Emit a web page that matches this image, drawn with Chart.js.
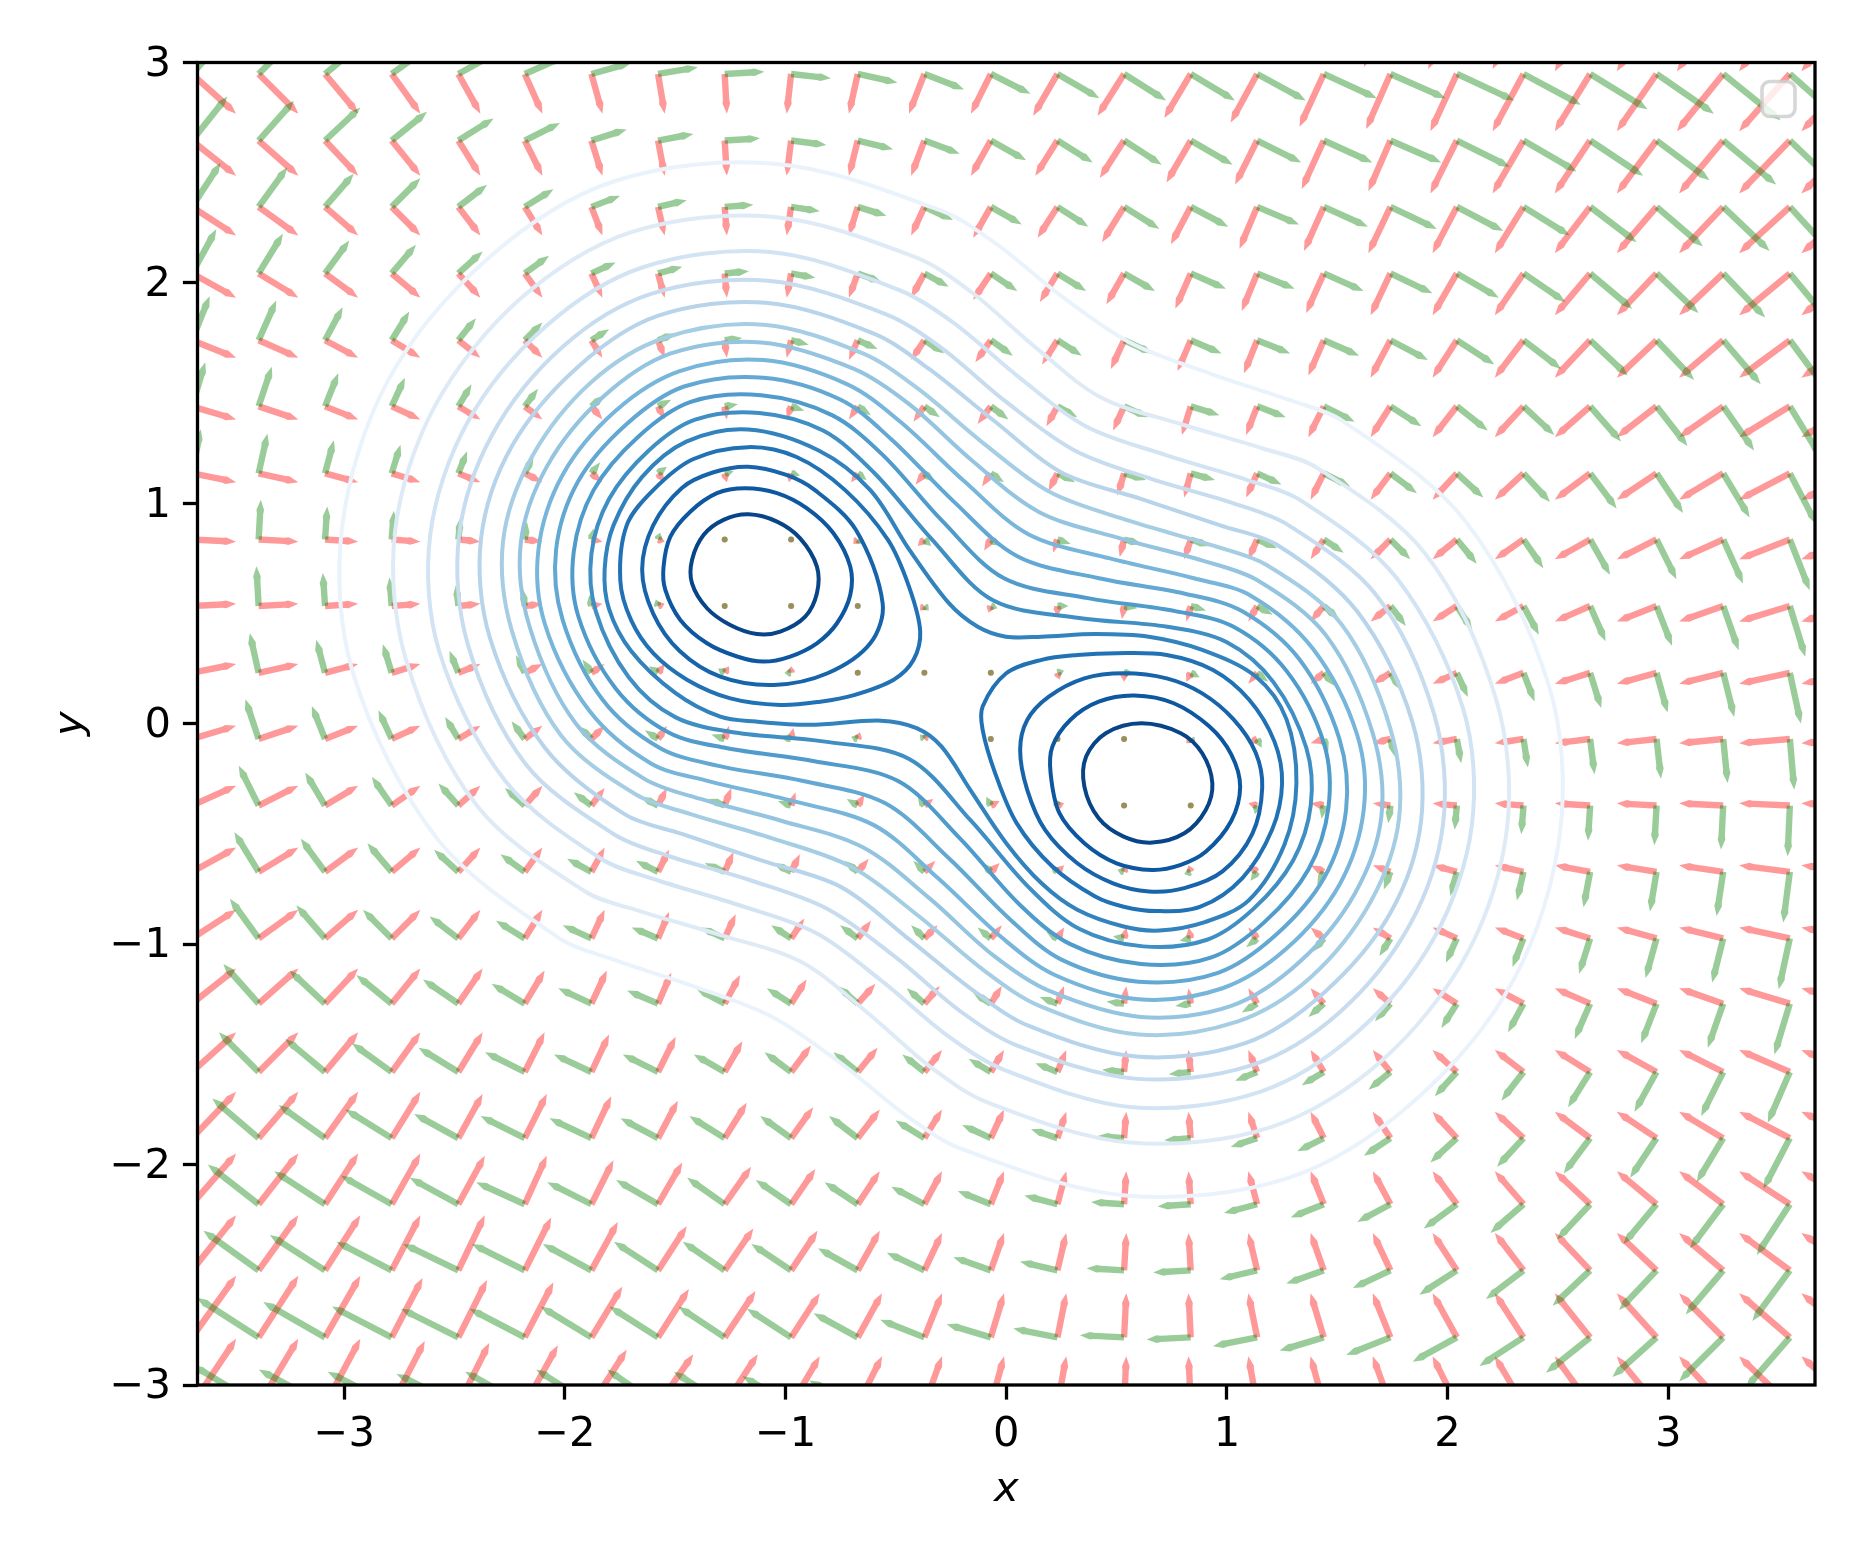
<!DOCTYPE html>
<html>
<head>
<meta charset="utf-8">
<title>Contours with gradient and rotated field</title>
<style>html,body{margin:0;background:#fff}canvas{display:block}</style>
<script src="https://cdn.jsdelivr.net/npm/chart.js@4/dist/chart.umd.min.js"></script>
</head>
<body>
<canvas id="fieldChart" width="1860" height="1560"></canvas>
<script>
const xTicks = [-3, -2, -1, 0, 1, 2, 3];
const yTicks = [-3, -2, -1, 0, 1, 2, 3];
const tickLabels = ["\u22123", "\u22122", "\u22121", "0", "1", "2", "3"];

// arrow tails
const gridX = [-3.69,-3.388,-3.087,-2.785,-2.483,-2.182,-1.88,-1.578,-1.276,-.975,-.673,-.371,-.07,.232,.534,.836,1.137,1.439,1.741,2.042,2.344,2.646,2.947,3.249,3.551,3.853];
const gridY = [3.25,2.948,2.646,2.345,2.043,1.74,1.44,1.136,.836,.534,.231,-.069,-.371,-.672,-.974,-1.27,-1.58,-1.88,-2.18,-2.48,-2.784,-3.09];

// red arrows, one row per gridY
const redU = [
[.20,.18,.15,.13,.10,.08,.05,.03,.01,-.02,-.04,-.07,-.09,-.11,-.13,-.14,-.13,-.13,-.12,-.13,-.14,-.16,-.18,-.21,-.23,-.25],
[.20,.18,.15,.13,.10,.08,.05,.03,.01,-.02,-.04,-.07,-.09,-.11,-.12,-.12,-.12,-.11,-.11,-.12,-.14,-.16,-.18,-.21,-.23,-.25],
[.20,.18,.15,.13,.10,.08,.05,.03,.01,-.02,-.04,-.06,-.09,-.10,-.11,-.11,-.10,-.10,-.10,-.12,-.14,-.16,-.18,-.20,-.23,-.25],
[.20,.18,.15,.13,.10,.08,.05,.03,.01,-.02,-.04,-.06,-.08,-.09,-.10,-.09,-.08,-.09,-.10,-.11,-.13,-.16,-.18,-.20,-.23,-.25],
[.20,.18,.15,.13,.10,.08,.05,.03,.01,-.02,-.04,-.06,-.08,-.08,-.08,-.07,-.07,-.08,-.09,-.11,-.13,-.16,-.18,-.20,-.23,-.25],
[.20,.18,.15,.13,.10,.08,.05,.03,.01,-.02,-.04,-.06,-.07,-.07,-.06,-.06,-.06,-.07,-.09,-.11,-.13,-.16,-.18,-.20,-.23,-.25],
[.20,.18,.15,.13,.10,.08,.05,.03,.01,-.02,-.04,-.05,-.06,-.05,-.05,-.04,-.05,-.07,-.09,-.11,-.13,-.16,-.18,-.20,-.23,-.25],
[.20,.18,.15,.13,.10,.08,.05,.03,.01,-.01,-.03,-.04,-.04,-.04,-.03,-.03,-.05,-.06,-.09,-.11,-.13,-.16,-.18,-.20,-.23,-.25],
[.20,.18,.15,.13,.10,.08,.05,.03,.01,-.01,-.02,-.03,-.03,-.02,-.02,-.03,-.04,-.06,-.09,-.11,-.13,-.16,-.18,-.20,-.23,-.25],
[.20,.18,.15,.13,.10,.08,.05,.03,.01,-.01,-.02,-.02,-.01,0,-.01,-.02,-.04,-.06,-.09,-.11,-.13,-.16,-.18,-.20,-.23,-.25],
[.20,.18,.15,.13,.10,.08,.06,.03,.02,0,0,0,.01,.01,0,-.02,-.04,-.06,-.08,-.11,-.13,-.16,-.18,-.20,-.23,-.25],
[.20,.18,.15,.13,.10,.08,.06,.04,.02,.01,.01,.02,.02,.02,0,-.02,-.04,-.06,-.08,-.11,-.13,-.16,-.18,-.20,-.23,-.25],
[.20,.18,.15,.13,.10,.08,.06,.04,.03,.02,.03,.04,.04,.03,.01,-.01,-.04,-.06,-.08,-.11,-.13,-.16,-.18,-.20,-.23,-.25],
[.20,.18,.15,.13,.10,.08,.06,.05,.04,.04,.05,.05,.04,.03,.01,-.01,-.04,-.06,-.08,-.11,-.13,-.16,-.18,-.20,-.23,-.25],
[.20,.18,.15,.13,.10,.08,.06,.05,.05,.06,.06,.06,.05,.03,.01,-.01,-.04,-.06,-.08,-.11,-.13,-.16,-.18,-.20,-.23,-.25],
[.20,.18,.15,.13,.11,.09,.07,.06,.07,.07,.08,.07,.05,.03,.01,-.01,-.04,-.06,-.08,-.11,-.13,-.16,-.18,-.20,-.23,-.25],
[.20,.18,.15,.13,.11,.09,.08,.08,.08,.09,.09,.08,.06,.04,.01,-.01,-.04,-.06,-.08,-.11,-.13,-.16,-.18,-.20,-.23,-.25],
[.20,.18,.15,.13,.11,.10,.09,.09,.10,.10,.10,.08,.06,.04,.01,-.01,-.04,-.06,-.08,-.11,-.13,-.16,-.18,-.20,-.23,-.25],
[.20,.18,.15,.13,.12,.10,.10,.11,.12,.11,.10,.08,.06,.04,.01,-.01,-.04,-.06,-.08,-.11,-.13,-.16,-.18,-.20,-.23,-.25],
[.20,.18,.16,.13,.12,.12,.12,.13,.13,.12,.10,.08,.06,.04,.01,-.01,-.04,-.06,-.08,-.11,-.13,-.16,-.18,-.20,-.23,-.25],
[.20,.18,.16,.14,.13,.13,.14,.14,.14,.13,.11,.08,.06,.04,.01,-.01,-.04,-.06,-.08,-.11,-.13,-.16,-.18,-.20,-.23,-.25],
[.20,.18,.16,.15,.14,.15,.16,.16,.15,.13,.11,.08,.06,.04,.01,-.01,-.04,-.06,-.08,-.11,-.13,-.16,-.18,-.20,-.23,-.25]
];
const redV = [
[-.20,-.20,-.20,-.20,-.20,-.20,-.20,-.20,-.20,-.20,-.20,-.20,-.21,-.21,-.21,-.22,-.23,-.25,-.27,-.28,-.28,-.29,-.29,-.29,-.29,-.29],
[-.18,-.18,-.18,-.18,-.18,-.18,-.18,-.18,-.18,-.18,-.18,-.18,-.18,-.19,-.19,-.20,-.22,-.24,-.25,-.26,-.26,-.26,-.26,-.26,-.26,-.26],
[-.16,-.16,-.16,-.16,-.16,-.16,-.16,-.16,-.16,-.16,-.16,-.16,-.16,-.16,-.17,-.19,-.20,-.22,-.23,-.24,-.24,-.24,-.24,-.24,-.24,-.24],
[-.13,-.13,-.13,-.13,-.13,-.13,-.13,-.13,-.13,-.13,-.13,-.13,-.14,-.14,-.16,-.17,-.19,-.20,-.21,-.21,-.21,-.21,-.21,-.21,-.21,-.21],
[-.11,-.11,-.11,-.11,-.11,-.11,-.11,-.11,-.11,-.11,-.11,-.11,-.12,-.13,-.14,-.16,-.17,-.18,-.19,-.19,-.19,-.19,-.19,-.19,-.19,-.19],
[-.08,-.08,-.08,-.08,-.08,-.08,-.08,-.08,-.08,-.08,-.09,-.09,-.10,-.11,-.13,-.14,-.15,-.16,-.17,-.17,-.17,-.17,-.17,-.17,-.17,-.17],
[-.06,-.06,-.06,-.06,-.06,-.06,-.06,-.06,-.06,-.06,-.06,-.07,-.08,-.09,-.11,-.13,-.13,-.14,-.14,-.14,-.14,-.14,-.14,-.14,-.14,-.14],
[-.04,-.04,-.04,-.04,-.04,-.04,-.04,-.04,-.04,-.04,-.04,-.05,-.06,-.08,-.10,-.11,-.11,-.12,-.12,-.12,-.12,-.12,-.12,-.12,-.12,-.12],
[-.01,-.01,-.01,-.01,-.01,-.01,-.01,-.01,-.01,-.02,-.02,-.03,-.05,-.06,-.08,-.09,-.09,-.09,-.09,-.09,-.09,-.09,-.09,-.09,-.09,-.09],
[.01,.01,.01,.01,.01,.01,.01,.01,.01,.01,0,-.02,-.03,-.05,-.06,-.07,-.07,-.07,-.07,-.07,-.07,-.07,-.07,-.07,-.07,-.07],
[.04,.04,.04,.04,.04,.04,.04,.04,.03,.03,.02,0,-.02,-.03,-.04,-.04,-.05,-.05,-.05,-.05,-.05,-.05,-.05,-.05,-.05,-.05],
[.06,.06,.06,.06,.06,.06,.06,.06,.06,.05,.03,.02,0,-.01,-.02,-.02,-.02,-.02,-.02,-.02,-.02,-.02,-.02,-.02,-.02,-.02],
[.09,.09,.09,.09,.09,.09,.08,.08,.08,.06,.05,.03,.02,.01,.01,0,.01,.01,.01,.01,.01,.01,.01,.01,.01,.01],
[.11,.11,.11,.11,.11,.11,.11,.10,.09,.08,.06,.05,.04,.03,.03,.03,.03,.03,.03,.03,.03,.03,.03,.03,.03,.03],
[.13,.13,.13,.13,.13,.13,.13,.12,.11,.09,.08,.06,.06,.05,.05,.05,.05,.05,.05,.05,.05,.05,.05,.05,.05,.05],
[.16,.16,.16,.16,.16,.15,.15,.14,.13,.11,.09,.08,.08,.08,.08,.07,.07,.07,.07,.07,.07,.07,.07,.07,.07,.07],
[.18,.18,.18,.18,.18,.18,.17,.16,.14,.12,.11,.10,.10,.10,.10,.10,.10,.10,.10,.10,.10,.10,.10,.10,.10,.10],
[.21,.21,.21,.21,.20,.20,.19,.17,.16,.14,.13,.13,.13,.12,.12,.12,.12,.12,.12,.12,.12,.12,.12,.12,.12,.12],
[.23,.23,.23,.23,.22,.22,.20,.19,.17,.16,.15,.15,.15,.15,.15,.15,.15,.15,.15,.15,.15,.15,.15,.15,.15,.15],
[.25,.25,.25,.25,.25,.24,.22,.20,.19,.18,.18,.17,.17,.17,.17,.17,.17,.17,.17,.17,.17,.17,.17,.17,.17,.17],
[.28,.28,.28,.27,.26,.25,.23,.22,.21,.20,.20,.20,.20,.20,.20,.20,.20,.20,.20,.20,.20,.20,.20,.20,.20,.20],
[.30,.30,.30,.29,.28,.27,.25,.23,.23,.22,.22,.22,.22,.22,.22,.22,.22,.22,.22,.22,.22,.22,.22,.22,.22,.22]
];

// green arrows, one row per gridY
const greenU = [
[.20,.20,.20,.20,.20,.20,.20,.20,.20,.20,.20,.20,.21,.21,.21,.22,.23,.25,.27,.28,.28,.29,.29,.29,.29,.29],
[.18,.18,.18,.18,.18,.18,.18,.18,.18,.18,.18,.18,.18,.19,.19,.20,.22,.24,.25,.26,.26,.26,.26,.26,.26,.26],
[.16,.16,.16,.16,.16,.16,.16,.16,.16,.16,.16,.16,.16,.16,.17,.19,.20,.22,.23,.24,.24,.24,.24,.24,.24,.24],
[.13,.13,.13,.13,.13,.13,.13,.13,.13,.13,.13,.13,.14,.14,.16,.17,.19,.20,.21,.21,.21,.21,.21,.21,.21,.21],
[.11,.11,.11,.11,.11,.11,.11,.11,.11,.11,.11,.11,.12,.13,.14,.16,.17,.18,.19,.19,.19,.19,.19,.19,.19,.19],
[.08,.08,.08,.08,.08,.08,.08,.08,.08,.08,.09,.09,.10,.11,.13,.14,.15,.16,.17,.17,.17,.17,.17,.17,.17,.17],
[.06,.06,.06,.06,.06,.06,.06,.06,.06,.06,.06,.07,.08,.09,.11,.13,.13,.14,.14,.14,.14,.14,.14,.14,.14,.14],
[.04,.04,.04,.04,.04,.04,.04,.04,.04,.04,.04,.05,.06,.08,.10,.11,.11,.12,.12,.12,.12,.12,.12,.12,.12,.12],
[.01,.01,.01,.01,.01,.01,.01,.01,.01,.02,.02,.03,.05,.06,.08,.09,.09,.09,.09,.09,.09,.09,.09,.09,.09,.09],
[-.01,-.01,-.01,-.01,-.01,-.01,-.01,-.01,-.01,-.01,0,.02,.03,.05,.06,.07,.07,.07,.07,.07,.07,.07,.07,.07,.07,.07],
[-.04,-.04,-.04,-.04,-.04,-.04,-.04,-.04,-.03,-.03,-.02,0,.02,.03,.04,.04,.05,.05,.05,.05,.05,.05,.05,.05,.05,.05],
[-.06,-.06,-.06,-.06,-.06,-.06,-.06,-.06,-.06,-.05,-.03,-.02,0,.01,.02,.02,.02,.02,.02,.02,.02,.02,.02,.02,.02,.02],
[-.09,-.09,-.09,-.09,-.09,-.09,-.08,-.08,-.08,-.06,-.05,-.03,-.02,-.01,-.01,0,-.01,-.01,-.01,-.01,-.01,-.01,-.01,-.01,-.01,-.01],
[-.11,-.11,-.11,-.11,-.11,-.11,-.11,-.10,-.09,-.08,-.06,-.05,-.04,-.03,-.03,-.03,-.03,-.03,-.03,-.03,-.03,-.03,-.03,-.03,-.03,-.03],
[-.13,-.13,-.13,-.13,-.13,-.13,-.13,-.12,-.11,-.09,-.08,-.06,-.06,-.05,-.05,-.05,-.05,-.05,-.05,-.05,-.05,-.05,-.05,-.05,-.05,-.05],
[-.16,-.16,-.16,-.16,-.16,-.15,-.15,-.14,-.13,-.11,-.09,-.08,-.08,-.08,-.08,-.07,-.07,-.07,-.07,-.07,-.07,-.07,-.07,-.07,-.07,-.07],
[-.18,-.18,-.18,-.18,-.18,-.18,-.17,-.16,-.14,-.12,-.11,-.10,-.10,-.10,-.10,-.10,-.10,-.10,-.10,-.10,-.10,-.10,-.10,-.10,-.10,-.10],
[-.21,-.21,-.21,-.21,-.20,-.20,-.19,-.17,-.16,-.14,-.13,-.13,-.13,-.12,-.12,-.12,-.12,-.12,-.12,-.12,-.12,-.12,-.12,-.12,-.12,-.12],
[-.23,-.23,-.23,-.23,-.22,-.22,-.20,-.19,-.17,-.16,-.15,-.15,-.15,-.15,-.15,-.15,-.15,-.15,-.15,-.15,-.15,-.15,-.15,-.15,-.15,-.15],
[-.25,-.25,-.25,-.25,-.25,-.24,-.22,-.20,-.19,-.18,-.18,-.17,-.17,-.17,-.17,-.17,-.17,-.17,-.17,-.17,-.17,-.17,-.17,-.17,-.17,-.17],
[-.28,-.28,-.28,-.27,-.26,-.25,-.23,-.22,-.21,-.20,-.20,-.20,-.20,-.20,-.20,-.20,-.20,-.20,-.20,-.20,-.20,-.20,-.20,-.20,-.20,-.20],
[-.30,-.30,-.30,-.29,-.28,-.27,-.25,-.23,-.23,-.22,-.22,-.22,-.22,-.22,-.22,-.22,-.22,-.22,-.22,-.22,-.22,-.22,-.22,-.22,-.22,-.22]
];
const greenV = [
[.20,.18,.15,.13,.10,.08,.05,.03,.01,-.02,-.04,-.07,-.09,-.11,-.13,-.14,-.13,-.13,-.12,-.13,-.14,-.16,-.18,-.21,-.23,-.25],
[.20,.18,.15,.13,.10,.08,.05,.03,.01,-.02,-.04,-.07,-.09,-.11,-.12,-.12,-.12,-.11,-.11,-.12,-.14,-.16,-.18,-.21,-.23,-.25],
[.20,.18,.15,.13,.10,.08,.05,.03,.01,-.02,-.04,-.06,-.09,-.10,-.11,-.11,-.10,-.10,-.10,-.12,-.14,-.16,-.18,-.20,-.23,-.25],
[.20,.18,.15,.13,.10,.08,.05,.03,.01,-.02,-.04,-.06,-.08,-.09,-.10,-.09,-.08,-.09,-.10,-.11,-.13,-.16,-.18,-.20,-.23,-.25],
[.20,.18,.15,.13,.10,.08,.05,.03,.01,-.02,-.04,-.06,-.08,-.08,-.08,-.07,-.07,-.08,-.09,-.11,-.13,-.16,-.18,-.20,-.23,-.25],
[.20,.18,.15,.13,.10,.08,.05,.03,.01,-.02,-.04,-.06,-.07,-.07,-.06,-.06,-.06,-.07,-.09,-.11,-.13,-.16,-.18,-.20,-.23,-.25],
[.20,.18,.15,.13,.10,.08,.05,.03,.01,-.02,-.04,-.05,-.06,-.05,-.05,-.04,-.05,-.07,-.09,-.11,-.13,-.16,-.18,-.20,-.23,-.25],
[.20,.18,.15,.13,.10,.08,.05,.03,.01,-.01,-.03,-.04,-.04,-.04,-.03,-.03,-.05,-.06,-.09,-.11,-.13,-.16,-.18,-.20,-.23,-.25],
[.20,.18,.15,.13,.10,.08,.05,.03,.01,-.01,-.02,-.03,-.03,-.02,-.02,-.03,-.04,-.06,-.09,-.11,-.13,-.16,-.18,-.20,-.23,-.25],
[.20,.18,.15,.13,.10,.08,.05,.03,.01,-.01,-.02,-.02,-.01,0,-.01,-.02,-.04,-.06,-.09,-.11,-.13,-.16,-.18,-.20,-.23,-.25],
[.20,.18,.15,.13,.10,.08,.06,.03,.02,0,0,0,.01,.01,0,-.02,-.04,-.06,-.08,-.11,-.13,-.16,-.18,-.20,-.23,-.25],
[.20,.18,.15,.13,.10,.08,.06,.04,.02,.01,.01,.02,.02,.02,0,-.02,-.04,-.06,-.08,-.11,-.13,-.16,-.18,-.20,-.23,-.25],
[.20,.18,.15,.13,.10,.08,.06,.04,.03,.02,.03,.04,.04,.03,.01,-.01,-.04,-.06,-.08,-.11,-.13,-.16,-.18,-.20,-.23,-.25],
[.20,.18,.15,.13,.10,.08,.06,.05,.04,.04,.05,.05,.04,.03,.01,-.01,-.04,-.06,-.08,-.11,-.13,-.16,-.18,-.20,-.23,-.25],
[.20,.18,.15,.13,.10,.08,.06,.05,.05,.06,.06,.06,.05,.03,.01,-.01,-.04,-.06,-.08,-.11,-.13,-.16,-.18,-.20,-.23,-.25],
[.20,.18,.15,.13,.11,.09,.07,.06,.07,.07,.08,.07,.05,.03,.01,-.01,-.04,-.06,-.08,-.11,-.13,-.16,-.18,-.20,-.23,-.25],
[.20,.18,.15,.13,.11,.09,.08,.08,.08,.09,.09,.08,.06,.04,.01,-.01,-.04,-.06,-.08,-.11,-.13,-.16,-.18,-.20,-.23,-.25],
[.20,.18,.15,.13,.11,.10,.09,.09,.10,.10,.10,.08,.06,.04,.01,-.01,-.04,-.06,-.08,-.11,-.13,-.16,-.18,-.20,-.23,-.25],
[.20,.18,.15,.13,.12,.10,.10,.11,.12,.11,.10,.08,.06,.04,.01,-.01,-.04,-.06,-.08,-.11,-.13,-.16,-.18,-.20,-.23,-.25],
[.20,.18,.16,.13,.12,.12,.12,.13,.13,.12,.10,.08,.06,.04,.01,-.01,-.04,-.06,-.08,-.11,-.13,-.16,-.18,-.20,-.23,-.25],
[.20,.18,.16,.14,.13,.13,.14,.14,.14,.13,.11,.08,.06,.04,.01,-.01,-.04,-.06,-.08,-.11,-.13,-.16,-.18,-.20,-.23,-.25],
[.20,.18,.16,.15,.14,.15,.16,.16,.15,.13,.11,.08,.06,.04,.01,-.01,-.04,-.06,-.08,-.11,-.13,-.16,-.18,-.20,-.23,-.25]
];

// contour lines, outermost first
const outer01 = [[-2.80,1.56],[-2.35,2.11],[-1.78,2.46],[-1.04,2.54],[-.30,2.33],[-.05,2.18],[.25,1.94],[.56,1.73],[.92,1.59],[1.28,1.47],[1.53,1.37],[2.08,.92],[2.46,.17],[2.51,-.49],[2.30,-1.16],[1.85,-1.71],[1.28,-2.06],[.54,-2.14],[-.20,-1.93],[-.45,-1.78],[-.75,-1.54],[-1.06,-1.33],[-1.42,-1.19],[-1.78,-1.07],[-2.03,-.97],[-2.58,-.52],[-2.96,.23],[-3.01,.89]];
const outer02 = [[-2.59,1.44],[-2.20,1.93],[-1.70,2.23],[-1.06,2.30],[-.42,2.12],[-.16,1.96],[.13,1.71],[.43,1.48],[.79,1.36],[1.16,1.25],[1.41,1.16],[1.90,.77],[2.22,.11],[2.27,-.47],[2.09,-1.04],[1.70,-1.53],[1.20,-1.83],[.56,-1.90],[-.08,-1.72],[-.34,-1.56],[-.63,-1.31],[-.93,-1.08],[-1.29,-.96],[-1.66,-.85],[-1.91,-.76],[-2.40,-.37],[-2.72,.29],[-2.77,.87]];
const outer03 = [[-2.44,1.37],[-2.09,1.80],[-1.65,2.07],[-1.07,2.14],[-.49,1.97],[-.24,1.82],[.06,1.57],[.36,1.35],[.72,1.22],[1.08,1.11],[1.34,1.01],[1.77,.66],[2.07,.07],[2.11,-.46],[1.94,-.97],[1.59,-1.40],[1.15,-1.67],[.57,-1.74],[-.01,-1.57],[-.26,-1.42],[-.56,-1.17],[-.86,-.95],[-1.22,-.82],[-1.58,-.71],[-1.84,-.61],[-2.27,-.26],[-2.57,.33],[-2.61,.86]];
const outer04 = [[-2.33,1.31],[-2.01,1.71],[-1.61,1.95],[-1.08,2.01],[-.55,1.86],[-.30,1.71],[0,1.46],[.31,1.24],[.66,1.11],[1.03,1.00],[1.28,.90],[1.68,.58],[1.94,.04],[1.98,-.45],[1.83,-.91],[1.51,-1.31],[1.11,-1.55],[.58,-1.61],[.05,-1.46],[-.20,-1.31],[-.50,-1.06],[-.81,-.84],[-1.16,-.71],[-1.53,-.60],[-1.78,-.50],[-2.18,-.18],[-2.44,.36],[-2.48,.85]];
const outer05 = [[-2.24,1.26],[-1.94,1.62],[-1.58,1.85],[-1.09,1.91],[-.60,1.77],[-.35,1.61],[-.05,1.37],[.25,1.14],[.61,1.02],[.97,.90],[1.23,.81],[1.59,.51],[1.84,.01],[1.88,-.44],[1.74,-.86],[1.44,-1.22],[1.08,-1.45],[.59,-1.51],[.10,-1.37],[-.15,-1.21],[-.45,-.97],[-.75,-.74],[-1.11,-.62],[-1.47,-.50],[-1.73,-.41],[-2.09,-.11],[-2.34,.39],[-2.38,.84]];
const outer06 = [[-2.15,1.21],[-1.88,1.55],[-1.55,1.75],[-1.10,1.81],[-.65,1.68],[-.40,1.52],[-.10,1.27],[.20,1.05],[.56,.92],[.93,.81],[1.18,.72],[1.52,.45],[1.74,-.02],[1.78,-.43],[1.65,-.81],[1.38,-1.15],[1.05,-1.35],[.60,-1.41],[.15,-1.28],[-.10,-1.12],[-.40,-.87],[-.70,-.65],[-1.06,-.52],[-1.43,-.41],[-1.68,-.32],[-2.02,-.05],[-2.24,.42],[-2.28,.83]];
const outer07 = [[-2.08,1.17],[-1.83,1.48],[-1.52,1.68],[-1.11,1.73],[-.69,1.61],[-.44,1.45],[-.15,1.19],[.15,.96],[.52,.84],[.89,.74],[1.14,.65],[1.45,.40],[1.66,-.04],[1.70,-.42],[1.58,-.77],[1.33,-1.08],[1.02,-1.28],[.61,-1.33],[.19,-1.21],[-.06,-1.05],[-.35,-.79],[-.65,-.56],[-1.02,-.44],[-1.39,-.34],[-1.64,-.25],[-1.95,0],[-2.16,.44],[-2.20,.82]];
const outer08 = [[-2.01,1.13],[-1.77,1.42],[-1.48,1.60],[-1.10,1.65],[-.72,1.54],[-.48,1.37],[-.19,1.10],[.10,.86],[.47,.75],[.85,.66],[1.11,.58],[1.39,.34],[1.59,-.05],[1.62,-.39],[1.51,-.73],[1.27,-1.02],[.98,-1.20],[.60,-1.25],[.22,-1.14],[-.02,-.97],[-.31,-.70],[-.60,-.46],[-.97,-.35],[-1.35,-.26],[-1.61,-.18],[-1.89,.06],[-2.09,.45],[-2.12,.79]];
const outer09 = [[-1.94,1.10],[-1.72,1.36],[-1.46,1.53],[-1.10,1.57],[-.75,1.47],[-.52,1.29],[-.24,1.01],[.05,.76],[.42,.66],[.81,.59],[1.07,.51],[1.33,.29],[1.51,-.07],[1.54,-.39],[1.44,-.70],[1.22,-.96],[.96,-1.13],[.60,-1.17],[.25,-1.07],[.02,-.89],[-.26,-.61],[-.55,-.36],[-.92,-.26],[-1.31,-.19],[-1.57,-.11],[-1.83,.11],[-2.01,.47],[-2.04,.79]];
const outer10 = [[-1.87,1.06],[-1.67,1.30],[-1.43,1.46],[-1.11,1.49],[-.79,1.40],[-.56,1.22],[-.29,.92],[-.01,.66],[.37,.57],[.77,.51],[1.03,.44],[1.27,.24],[1.44,-.09],[1.46,-.38],[1.37,-.66],[1.17,-.90],[.93,-1.06],[.61,-1.09],[.29,-1.00],[.06,-.82],[-.21,-.52],[-.49,-.26],[-.87,-.17],[-1.27,-.11],[-1.53,-.04],[-1.77,.16],[-1.94,.49],[-1.96,.78]];
const outer11 = [[-1.80,1.02],[-1.62,1.24],[-1.41,1.38],[-1.12,1.41],[-.83,1.33],[-.60,1.14],[-.34,.84],[-.06,.56],[.33,.48],[.73,.44],[1.00,.37],[1.21,.19],[1.36,-.11],[1.38,-.37],[1.30,-.62],[1.12,-.84],[.91,-.98],[.62,-1.01],[.33,-.93],[.10,-.74],[-.16,-.44],[-.44,-.16],[-.83,-.08],[-1.23,-.04],[-1.50,.03],[-1.71,.21],[-1.86,.51],[-1.88,.77]];
const outer12 = [[-1.17,1.335],[-.85,1.24],[-.616,1.06],[-.438,.788],[-.26,.547],[-.131,.441],[-.002,.395],[.16,.395],[.403,.407],[.646,.395],[.888,.335],[1.131,.214],[1.27,.02],[1.315,-.27],[1.26,-.55],[1.10,-.80],[.90,-.90],[.694,-.938],[.532,-.92],[.322,-.844],[.16,-.724],[0,-.542],[-.163,-.30],[-.293,-.104],[-.406,-.02],[-.568,.014],[-.891,-.005],[-1.134,.01],[-1.296,.032],[-1.50,.14],[-1.70,.33],[-1.80,.52],[-1.82,.70],[-1.78,.90],[-1.65,1.12],[-1.45,1.28]];
const wellA4 = [[-1.17,1.255],[-.95,1.21],[-.73,1.06],[-.536,.834],[-.44,.62],[-.39,.42],[-.42,.29],[-.51,.20],[-.69,.13],[-.843,.10],[-1.024,.085],[-1.25,.115],[-1.447,.20],[-1.60,.32],[-1.70,.47],[-1.749,.65],[-1.72,.90],[-1.60,1.06],[-1.42,1.20]];
const wellA3 = [[-1.17,1.166],[-1.0,1.13],[-.867,1.06],[-.681,.879],[-.56,.546],[-.616,.365],[-.81,.229],[-1.053,.176],[-1.296,.214],[-1.48,.33],[-1.60,.50],[-1.65,.70],[-1.60,.90],[-1.47,1.07],[-1.33,1.14]];
const wellA2 = [[-1.183,1.068],[-1.039,1.046],[-.903,.977],[-.783,.864],[-.707,.713],[-.707,.584],[-.767,.456],[-.858,.365],[-.979,.305],[-1.10,.282],[-1.22,.305],[-1.356,.365],[-1.477,.471],[-1.545,.607],[-1.553,.713],[-1.522,.849],[-1.432,.962],[-1.311,1.046]];
const wellA1 = [[-1.168,.95],[-1.039,.917],[-.934,.841],[-.858,.713],[-.858,.592],[-.911,.486],[-1.024,.418],[-1.13,.407],[-1.251,.448],[-1.356,.524],[-1.424,.637],[-1.424,.743],[-1.371,.857],[-1.281,.925]];
const wellB4 = [[-.107,.078],[0,.229],[.16,.29],[.322,.312],[.50,.32],[.727,.312],[.937,.244],[1.10,.11],[1.215,-.08],[1.25,-.27],[1.205,-.48],[1.07,-.70],[.88,-.83],[.68,-.85],[.532,-.83],[.403,-.784],[.209,-.648],[.047,-.451],[-.05,-.225],[-.107,-.028]];
const wellB3 = [[.532,.229],[.727,.206],[.888,.138],[1.03,.02],[1.13,-.13],[1.16,-.29],[1.115,-.50],[.98,-.67],[.807,-.746],[.646,-.761],[.484,-.724],[.322,-.633],[.176,-.482],[.095,-.30],[.063,-.119],[.095,.017],[.193,.123],[.354,.206]];
const wellB2 = [[.581,.128],[.759,.093],[.921,-.013],[1.02,-.14],[1.06,-.285],[1.02,-.44],[.905,-.58],[.791,-.64],[.662,-.663],[.50,-.633],[.354,-.542],[.241,-.406],[.201,-.225],[.209,-.104],[.29,.017],[.419,.10]];
const wellB1 = [[.613,.002],[.791,-.043],[.888,-.134],[.934,-.27],[.904,-.391],[.807,-.497],[.662,-.539],[.532,-.512],[.419,-.429],[.354,-.285],[.362,-.149],[.451,-.043]];

const contourLines = [outer01,outer02,outer03,outer04,outer05,outer06,outer07,outer08,outer09,outer10,outer11,outer12,wellA4,wellB4,wellA3,wellB3,wellA2,wellB2,wellA1,wellB1];
const contourColors = ["#eaf3fb","#deebf7","#d2e3f3","#c7dcef","#b7d4ea","#a5cde3","#94c4df","#77b5da","#63a8d3","#4f9bcb","#3f8ec4","#3182bd","#2171b5","#2171b5","#1764ab","#1764ab","#0d57a1","#0d57a1","#084488","#084488"];

function arrowPoints(us, vs) {
  const pts = [];
  gridY.forEach((y, j) => {
    gridX.forEach((x, k) => {
      pts.push({ x: x, y: y, u: us[j][k], v: vs[j][k] });
    });
  });
  return pts;
}

// extra point each end so the spline closes smoothly; those two segments stay hidden
function closedLine(line) {
  const pts = line.map(p => ({ x: p[0], y: p[1] }));
  return [pts[pts.length - 1], ...pts, pts[0], pts[1]];
}

const datasets = contourLines.map((line, i) => {
  const pts = closedLine(line);
  return {
    label: "level " + (i + 1),
    data: pts,
    showLine: true,
    borderColor: contourColors[i],
    borderWidth: 4,
    pointRadius: 0,
    tension: 0.33,
    segment: {
      borderColor: ctx => (ctx.p0DataIndex === 0 || ctx.p1DataIndex === pts.length - 1) ? "rgba(0,0,0,0)" : undefined
    }
  };
});
datasets.push({ label: "red arrows", data: arrowPoints(redU, redV), pointRadius: 0, arrowColor: "rgba(255,0,0,0.4)" });
datasets.push({ label: "green arrows", data: arrowPoints(greenU, greenV), pointRadius: 0, arrowColor: "rgba(0,128,0,0.4)" });

function drawArrow(c, x0, y0, x1, y1) {
  const shaft = 6.4, wing = 3.8, axisLen = 14, headLen = 10;
  const len = Math.hypot(x1 - x0, y1 - y0);
  c.beginPath();
  if (len < 5) {
    c.arc(x0, y0, 3, 0, Math.PI * 2);
    c.fill();
    return;
  }
  const a = Math.atan2(y1 - y0, x1 - x0);
  let shape;
  if (len < axisLen) {
    shape = [[0, shaft / 2], [len * 0.3, wing], [len, 0], [len * 0.3, -wing], [0, -shaft / 2]];
  } else {
    shape = [[0, shaft / 2], [len - axisLen, shaft / 2], [len - headLen, wing], [len, 0], [len - headLen, -wing], [len - axisLen, -shaft / 2], [0, -shaft / 2]];
  }
  shape.forEach((p, i) => {
    const px = x0 + p[0] * Math.cos(a) - p[1] * Math.sin(a);
    const py = y0 + p[0] * Math.sin(a) + p[1] * Math.cos(a);
    if (i === 0) c.moveTo(px, py); else c.lineTo(px, py);
  });
  c.closePath();
  c.fill();
}

const quiverPlugin = {
  id: "quiver",
  beforeDatasetsDraw(chart) {
    const c = chart.ctx, area = chart.chartArea, sx = chart.scales.x, sy = chart.scales.y;
    c.save();
    c.beginPath();
    c.rect(area.left, area.top, area.right - area.left, area.bottom - area.top);
    c.clip();
    chart.data.datasets.filter(d => d.arrowColor).forEach(d => {
      c.fillStyle = d.arrowColor;
      d.data.forEach(p => {
        drawArrow(c, sx.getPixelForValue(p.x), sy.getPixelForValue(p.y),
          sx.getPixelForValue(p.x + p.u), sy.getPixelForValue(p.y + p.v));
      });
    });
    c.restore();
  },
  afterDatasetsDraw(chart) {
    const c = chart.ctx, area = chart.chartArea;
    // the empty legend frame
    c.save();
    c.beginPath();
    c.roundRect(area.right - 53, area.top + 19, 33, 35, 8);
    c.fillStyle = "rgba(255,255,255,0.8)";
    c.fill();
    c.lineWidth = 3.6;
    c.strokeStyle = "rgba(204,204,204,0.8)";
    c.stroke();
    c.lineWidth = 3.3;
    c.strokeStyle = "#000";
    c.strokeRect(area.left, area.top, area.right - area.left, area.bottom - area.top);
    c.restore();
  }
};

const tickFont = { family: "'DejaVu Sans'", size: 41.67 };
const titleFont = { family: "'DejaVu Sans'", size: 41.67, style: "italic" };
const axisGrid = { drawOnChartArea: false, drawTicks: true, tickLength: 14.6, tickWidth: 3.3, tickColor: "#000" };

new Chart(document.getElementById("fieldChart"), {
  type: "scatter",
  data: { datasets: datasets },
  plugins: [quiverPlugin],
  options: {
    responsive: false,
    animation: false,
    layout: { padding: { top: 62.5, right: 45, left: 0, bottom: 0 } },
    plugins: { legend: { display: false }, tooltip: { enabled: false } },
    scales: {
      x: {
        type: "linear",
        min: -3.665,
        max: 3.665,
        afterBuildTicks: s => { s.ticks = xTicks.map(v => ({ value: v })); },
        afterFit: s => { s.height = 175; },
        border: { display: false },
        grid: axisGrid,
        ticks: { font: tickFont, color: "#000", padding: 10.5, maxRotation: 0, autoSkip: false,
          callback: v => tickLabels[xTicks.indexOf(v)] },
        title: { display: true, text: "x", font: titleFont, color: "#000", padding: { top: 0, bottom: 45 } }
      },
      y: {
        type: "linear",
        min: -3,
        max: 3,
        afterBuildTicks: s => { s.ticks = yTicks.map(v => ({ value: v })); },
        afterFit: s => { s.width = 197.5; },
        border: { display: false },
        grid: axisGrid,
        ticks: { font: tickFont, color: "#000", padding: 12, labelOffset: 2.5, autoSkip: false,
          callback: v => tickLabels[yTicks.indexOf(v)] },
        title: { display: true, text: "y", font: titleFont, color: "#000", padding: { top: 46, bottom: 0 } }
      }
    }
  }
});
</script>
</body>
</html>
